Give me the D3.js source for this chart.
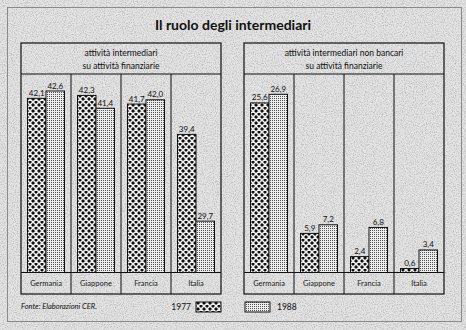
<!DOCTYPE html>
<html>
<head>
<meta charset="utf-8">
<script src="https://cdn.jsdelivr.net/npm/d3@7"></script>
<style>
  html, body { margin: 0; padding: 0; background: #e3e3e3; }
  svg { display: block; }
  text { font-family: "Lato", "Noto Sans", sans-serif; }
</style>
</head>
<body>
<svg id="chart" width="466" height="330"></svg>
<script>
// ---- data ----
const title = "Il ruolo degli intermediari";
const categories = ["Germania", "Giappone", "Francia", "Italia"];
const years = ["1977", "1988"];
const left1977 = [42.1, 42.3, 41.7, 39.4];
const left1988 = [42.6, 41.4, 42.0, 29.7];
const right1977 = [25.6, 5.9, 2.4, 0.6];
const right1988 = [26.9, 7.2, 6.8, 3.4];
const leftTitle = ["attività intermediari", "su attività finanziarie"];
const rightTitle = ["attività intermediari non bancari", "su attività finanziarie"];
const source = "Fonte: Elaborazioni CER.";

// ---- setup ----
const W = 466, H = 330;
const svg = d3.select("#chart");
const defs = svg.append("defs");

// paper speckle
const f = defs.append("filter").attr("id", "noise").attr("x", 0).attr("y", 0).attr("width", "100%").attr("height", "100%");
f.append("feTurbulence").attr("type", "fractalNoise").attr("baseFrequency", 0.9).attr("numOctaves", 2).attr("seed", 3).attr("result", "t");
f.append("feColorMatrix").attr("in", "t").attr("type", "matrix")
  .attr("values", "0 0 0 0 0.3  0 0 0 0 0.3  0 0 0 0 0.3  0 0 0 -2.2 1.25");

// pattern 1977: dark lattice
const p1 = defs.append("pattern").attr("id", "pat1977").attr("patternUnits", "userSpaceOnUse")
  .attr("width", 6).attr("height", 6);
p1.append("rect").attr("width", 6).attr("height", 6).attr("fill", "#111");
p1.append("path").attr("d", "M0,0 L6,6 M6,0 L0,6 M-3,3 L3,9 M3,-3 L9,3 M-3,3 L3,-3 M3,9 L9,3")
  .attr("stroke", "#f2f2f2").attr("stroke-width", 1.5).attr("fill", "none");

// pattern 1988: light dots
const p2 = defs.append("pattern").attr("id", "pat1988").attr("patternUnits", "userSpaceOnUse")
  .attr("width", 2).attr("height", 2);
p2.append("rect").attr("width", 2).attr("height", 2).attr("fill", "#ececec");
p2.append("rect").attr("x", 0).attr("y", 0).attr("width", 1).attr("height", 1).attr("fill", "#555");

const fills = { "1977": "url(#pat1977)", "1988": "url(#pat1988)" };

// background
svg.append("rect").attr("width", W).attr("height", H).attr("fill", "#e3e3e3");
svg.append("rect").attr("width", W).attr("height", H).attr("filter", "url(#noise)").attr("opacity", 0.55);

// outer frame
svg.append("rect").attr("x", 7.5).attr("y", 7.5).attr("width", 454).attr("height", 314)
  .attr("fill", "none").attr("stroke", "#8a8a8a").attr("stroke-width", 1);

// title
svg.append("text").attr("x", 233).attr("y", 29.5).attr("text-anchor", "middle")
  .attr("font-size", 14).attr("font-weight", "bold").attr("fill", "#111").text(title);

const locale = d3.formatLocale({ decimal: ",", thousands: ".", grouping: [3], currency: ["", "€"] });
const fmt = locale.format(".1f");

const panelTop = 43, headBottom = 74, base = 272.5, panelBottom = 294, pw = 200;

function panel(x0, heads, v77, v88, yScale) {
  const g = svg.append("g");
  const x = d3.scaleBand().domain(categories).range([x0, x0 + pw]).paddingInner(0).paddingOuter(0);
  const xi = d3.scaleBand().domain(years).range([0, x.bandwidth()]).paddingInner(0).paddingOuter(0.351);

  const rows = categories.map((c, i) => ({ c, vals: [{ y: "1977", v: v77[i] }, { y: "1988", v: v88[i] }] }));

  // bars
  const cg = g.selectAll("g.cat").data(rows).join("g").attr("class", "cat")
    .attr("transform", d => `translate(${x(d.c)},0)`);
  cg.selectAll("rect").data(d => d.vals).join("rect")
    .attr("x", d => xi(d.y))
    .attr("y", d => yScale(d.v))
    .attr("width", xi.bandwidth())
    .attr("height", d => base - yScale(d.v))
    .attr("fill", d => fills[d.y])
    .attr("stroke", "#111").attr("stroke-width", 1);
  cg.selectAll("text.val").data(d => d.vals).join("text").attr("class", "val")
    .attr("x", d => xi(d.y) + xi.bandwidth() / 2)
    .attr("y", d => yScale(d.v) - 2.5)
    .attr("text-anchor", "middle").attr("font-size", 8).attr("fill", "#111")
    .text(d => fmt(d.v));

  // frame lines
  g.append("rect").attr("x", x0).attr("y", panelTop).attr("width", pw).attr("height", panelBottom - panelTop)
    .attr("fill", "none").attr("stroke", "#111").attr("stroke-width", 1.2);
  g.append("line").attr("x1", x0).attr("x2", x0 + pw).attr("y1", headBottom).attr("y2", headBottom)
    .attr("stroke", "#111").attr("stroke-width", 1.2);
  g.append("line").attr("x1", x0).attr("x2", x0 + pw).attr("y1", base).attr("y2", base)
    .attr("stroke", "#111").attr("stroke-width", 1.2);
  g.selectAll("line.div").data(categories.slice(1)).join("line").attr("class", "div")
    .attr("x1", d => x(d)).attr("x2", d => x(d)).attr("y1", headBottom).attr("y2", panelBottom)
    .attr("stroke", "#111").attr("stroke-width", 1);

  // category labels
  g.selectAll("text.cat").data(categories).join("text").attr("class", "cat")
    .attr("x", d => x(d) + x.bandwidth() / 2).attr("y", 286)
    .attr("text-anchor", "middle").attr("font-size", 7.5).attr("fill", "#222").text(d => d);

  // header
  g.selectAll("text.head").data(heads).join("text").attr("class", "head")
    .attr("x", x0 + pw / 2).attr("y", (d, i) => 56 + i * 13)
    .attr("text-anchor", "middle").attr("font-size", 8.5).attr("fill", "#111").text(d => d);
}

const yLeft = d3.scalePow().exponent(3.5)
  .domain([0, d3.max(left1977.concat(left1988))]).range([base, 91]);
const yRight = d3.scaleLinear()
  .domain([0, d3.max(right1977.concat(right1988))]).range([base, 94.3]);

panel(21, leftTitle, left1977, left1988, yLeft);
panel(244, rightTitle, right1977, right1988, yRight);

// footer / legend
svg.append("text").attr("x", 21).attr("y", 309).attr("font-size", 7.5).attr("font-style", "italic")
  .attr("fill", "#111").text(source);
svg.append("text").attr("x", 191).attr("y", 310).attr("text-anchor", "end").attr("font-size", 8.5)
  .attr("fill", "#111").text(years[0]);
svg.append("rect").attr("x", 196).attr("y", 302).attr("width", 25).attr("height", 10)
  .attr("fill", fills["1977"]).attr("stroke", "#111").attr("stroke-width", 1);
svg.append("rect").attr("x", 245).attr("y", 302).attr("width", 25).attr("height", 10)
  .attr("fill", fills["1988"]).attr("stroke", "#111").attr("stroke-width", 1);
svg.append("text").attr("x", 277).attr("y", 310).attr("font-size", 8.5)
  .attr("fill", "#111").text(years[1]);
</script>
</body>
</html>
